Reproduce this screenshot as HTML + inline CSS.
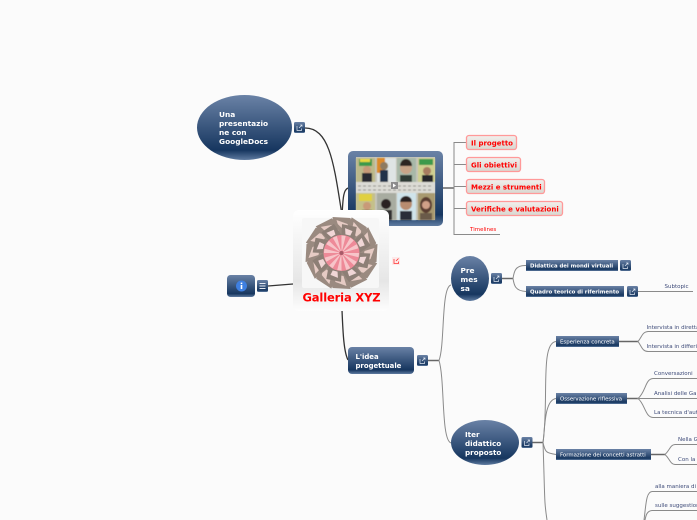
<!DOCTYPE html>
<html><head><meta charset="utf-8"><style>
html,body{margin:0;padding:0;background:#fbfbfb;width:697px;height:520px;overflow:hidden}
svg{display:block;filter:blur(.3px)}
text{font-family:"DejaVu Sans","Liberation Sans",sans-serif}
.w{fill:#fff;font-weight:bold;font-size:7.4px}
.s{fill:#fff;font-size:5.4px}
.sb{fill:#fff;font-size:5.38px;font-weight:bold}
.t{fill:#3d4a78;font-size:5.5px}
.r{fill:#f00;font-weight:bold;font-size:7px}
.c{fill:none;stroke:#8a8a8a;stroke-width:1}
.d{fill:none;stroke:#333;stroke-width:1.3}
.m{fill:none;stroke:#666;stroke-width:1.5}
</style></head><body>
<svg width="697" height="520" viewBox="0 0 697 520" xmlns="http://www.w3.org/2000/svg">
<defs>
<linearGradient id="b" x1="0" y1="0" x2="0" y2="1"><stop offset="0" stop-color="#6a82a6"/><stop offset=".85" stop-color="#16365f"/><stop offset="1" stop-color="#5f7ba0"/></linearGradient>
<linearGradient id="red" x1="0" y1="0" x2="0" y2="1"><stop offset="0" stop-color="#f1efec"/><stop offset="1" stop-color="#d9d6d0"/></linearGradient>
<linearGradient id="cn" x1="0" y1="0" x2="0" y2="1"><stop offset="0" stop-color="#fff"/><stop offset=".7" stop-color="#e6e6e6"/><stop offset="1" stop-color="#fdfdfd"/></linearGradient>
<filter id="bl" x="-5%" y="-5%" width="110%" height="110%"><feGaussianBlur stdDeviation=".6"/></filter>
<g id="btn"><rect width="11" height="11" rx="1.5" fill="url(#b)"/><path d="M3 4v4.500h4.500V6.500M5 6l3-3M6.200 3H8v1.800" fill="none" stroke="#dfe7f2" stroke-width=".7"/></g>
<g id="pet"><polygon points="-9,-36 9,-35 14,-17 -6,-16" fill="#9a8a80"/><polygon points="-5,-33 6,-29 9,-21 -2,-23" fill="#e6cbc4"/></g>
<g id="pet2"><polygon points="-7,-28 8,-29 9,-15 -4,-14" fill="#8d7f76"/><polygon points="-3,-25 5,-24 4,-19 -1,-19" fill="#f0d6d6"/></g>
</defs>

<!-- connectors -->
<path class="d" d="M305 128C330 128 334 165 342 215"/>
<path class="d" d="M348 188C343 190 343 200 342 215"/>
<path class="d" d="M268 286L293 284" stroke="#777"/>
<path class="d" d="M342 310C343 335 344 352 348 360"/>
<path class="m" d="M443 188H454"/>
<path class="c" d="M466 142.500H454V234.500H500M454 164.500H466M454 186.500H466M454 208.500H466" stroke-width="1.100"/>
<path class="m" d="M428 360.500H439"/>
<path class="c" d="M451 285C441 287 445 345 439 360.500C445 380 441 440 451 443"/>
<path class="m" d="M502 278.500H513"/>
<path class="c" d="M526 265.500C515 265 514 272 513 278.500C514 285 515 291 526 291.500"/>
<path class="c" d="M638 291.500H693"/>
<path class="m" d="M532 442.500H543"/>
<path class="c" d="M556 341.500C540 343 549 400 543 442.500C545 500 544 500 547 520"/>
<path class="c" d="M556 398.500C544 400 545 430 543 442.500C545 452 546 453 556 454.500"/>
<path class="m" d="M619 341.500H638"/>
<path class="c" d="M697 331.500H648C642 332 642 337 638 341.500C642 347 642 351 648 351.500H697"/>
<path class="m" d="M627 398.500H638"/>
<path class="c" d="M697 378.500H653C645 379 646 392 638 398.500C643 398.500 650 398.500 697 398.500M638 398.500C645 404 645 417 653 417.500H697"/>
<path class="m" d="M651 454.500H665"/>
<path class="c" d="M697 444.500H675C670 445 670 450 665 454.500C670 459 670 464 675 464.500H697"/>
<path class="c" d="M697 491.500H652C646 492 646 505 644 520M697 510.500H652C647 511 646 515 645 520"/>

<!-- Una -->
<ellipse cx="244.500" cy="127.500" rx="47.500" ry="32.500" fill="url(#b)"/>
<text class="w" x="219" y="117">Una</text><text class="w" x="219" y="126">presentazio</text><text class="w" x="219" y="135">ne con</text><text class="w" x="219" y="144">GoogleDocs</text>
<use href="#btn" x="294" y="122"/>

<!-- image node -->
<rect x="348" y="151" width="95" height="75" rx="5" fill="url(#b)"/>
<rect x="356" y="157" width="79" height="63" fill="#c6c5bb"/>
<g filter="url(#bl)">
<rect x="356" y="158" width="19" height="24" fill="#bdb98a"/><rect x="359" y="159" width="13" height="7" fill="#3e9a4c"/><rect x="360" y="159" width="10" height="3" fill="#e8d840"/><circle cx="367" cy="170" r="4" fill="#c89a78"/><rect x="362" y="173" width="10" height="9" fill="#2a2a30"/>
<rect x="377" y="158" width="19" height="24" fill="#dfe4e4"/><rect x="377" y="158" width="8" height="15" fill="#dc8a2c"/><circle cx="384" cy="166" r="4" fill="#8e7a60"/><rect x="380" y="170" width="8" height="12" fill="#24304a"/>
<rect x="397" y="158" width="19" height="24" fill="#a8b8a8"/><circle cx="406" cy="168" r="6" fill="#c8a488"/><path d="M400 166a6 7 0 0 1 12 0z" fill="#2e2824"/><rect x="400" y="175" width="12" height="7" fill="#2f3a34"/>
<rect x="418" y="158" width="17" height="24" fill="#cfcf90"/><rect x="419" y="159" width="14" height="6" fill="#3e9a4c"/><circle cx="427" cy="171" r="4" fill="#a87c60"/><rect x="422" y="175" width="11" height="7" fill="#26262a"/>
<rect x="356" y="182" width="79" height="11" fill="#dcdbd5"/>
<path d="M358 186h74M358 190h74" stroke="#8c8c86" stroke-width=".9" stroke-dasharray="3 2"/>
<rect x="356" y="193" width="19" height="27" fill="#c4c08a"/><rect x="359" y="194" width="13" height="7" fill="#e0d040"/><circle cx="367" cy="206" r="4" fill="#c89a78"/><rect x="362" y="210" width="10" height="10" fill="#2a2a30"/>
<rect x="377" y="193" width="19" height="27" fill="#a8aca0"/><circle cx="386" cy="204" r="5" fill="#2a2224"/><rect x="380" y="210" width="12" height="10" fill="#333"/>
<rect x="397" y="193" width="19" height="27" fill="#cfe3ea"/><circle cx="406" cy="204" r="6" fill="#b88c70"/><path d="M400 202a6 6 0 0 1 12 0z" fill="#2c2420"/><rect x="400" y="211" width="12" height="9" fill="#2b2d38"/>
<rect x="418" y="193" width="17" height="27" fill="#a89a70"/><ellipse cx="426" cy="205" rx="6" ry="8" fill="#5a3c30"/><circle cx="426" cy="205" r="4" fill="#d0a088"/><rect x="420" y="213" width="12" height="7" fill="#6a5a48"/>
</g>
<rect x="391" y="182" width="7" height="7" fill="#8c8c8c"/><path d="M393 183.500v4l3-2z" fill="#fff"/>

<!-- central -->
<rect x="293" y="210" width="96" height="101" rx="6" fill="url(#cn)"/>
<rect x="302" y="218" width="77" height="70" rx="2" fill="#f7f7f7"/>
<g transform="translate(341.500 253)">
<circle r="31" fill="#93857b"/>
<use href="#pet"/><use href="#pet" transform="rotate(30)"/><use href="#pet" transform="rotate(60)"/><use href="#pet" transform="rotate(90)"/><use href="#pet" transform="rotate(120)"/><use href="#pet" transform="rotate(150)"/><use href="#pet" transform="rotate(180)"/><use href="#pet" transform="rotate(210)"/><use href="#pet" transform="rotate(240)"/><use href="#pet" transform="rotate(270)"/><use href="#pet" transform="rotate(300)"/><use href="#pet" transform="rotate(330)"/>
<use href="#pet2" transform="rotate(15)"/><use href="#pet2" transform="rotate(60)"/><use href="#pet2" transform="rotate(105)"/><use href="#pet2" transform="rotate(150)"/><use href="#pet2" transform="rotate(195)"/><use href="#pet2" transform="rotate(240)"/><use href="#pet2" transform="rotate(285)"/><use href="#pet2" transform="rotate(330)"/>
<circle r="18" fill="#ee8a98"/>
<circle r="10" fill="none" stroke="#f9d3d6" stroke-width="15" stroke-dasharray="2.500 2.700" opacity=".8"/>
<circle r="2" fill="#a85a68"/>
</g>
<text x="341.500" y="301.500" text-anchor="middle" style="fill:#f00;font-weight:bold;font-size:11.500px;font-family:'DejaVu Sans',sans-serif;letter-spacing:-.15px">Galleria XYZ</text>
<rect x="392" y="257" width="8" height="8" fill="#fdeaea"/><path d="M394 259v4.500h4.500V261.500M396 261l2.500-2.500" fill="none" stroke="#f33" stroke-width=".8"/>

<!-- info -->
<rect x="227" y="275" width="28" height="22" rx="3.500" fill="url(#b)"/>
<circle cx="241.500" cy="286" r="5.500" fill="#3e7fe0"/><rect x="240.700" y="285" width="1.600" height="4" fill="#fff"/><rect x="240.700" y="282.600" width="1.600" height="1.500" fill="#fff"/>
<rect x="257" y="280" width="11" height="12" rx="1.500" fill="url(#b)"/><path d="M259.500 283.500h6M259.500 286h6M259.500 288.500h6" stroke="#e4e9f2" stroke-width=".9"/>

<!-- red nodes -->
<rect x="466.500" y="135.500" width="50" height="14" rx="2.500" fill="url(#red)" stroke="#f99" stroke-width="1.300"/>
<text class="r" x="471" y="145.500">Il progetto</text>
<rect x="466.500" y="157.500" width="54" height="14" rx="2.500" fill="url(#red)" stroke="#f99" stroke-width="1.300"/>
<text class="r" x="471" y="167.500">Gli obiettivi</text>
<rect x="466.500" y="179.500" width="78" height="14" rx="2.500" fill="url(#red)" stroke="#f99" stroke-width="1.300"/>
<text class="r" x="471" y="189.500">Mezzi e strumenti</text>
<rect x="466.500" y="201.500" width="96" height="14" rx="2.500" fill="url(#red)" stroke="#f99" stroke-width="1.300"/>
<text class="r" x="471" y="211.500">Verifiche e valutazioni</text>
<text x="470" y="231" style="fill:#f00;font-size:5.500px">Timelines</text>

<!-- L'idea -->
<rect x="348" y="347" width="66" height="27" rx="4" fill="url(#b)"/>
<text class="w" style="font-size:6.900px" x="355.500" y="359">L'idea</text><text class="w" style="font-size:6.900px" x="355.500" y="368">progettuale</text>
<use href="#btn" x="417" y="355"/>

<!-- Premessa -->
<ellipse cx="470" cy="278.500" rx="19" ry="22.500" fill="url(#b)"/>
<text class="w" x="460.500" y="273">Pre</text><text class="w" x="460.500" y="282">mes</text><text class="w" x="460.500" y="291">sa</text>
<use href="#btn" x="491" y="273"/>
<rect x="526" y="260" width="92" height="11" fill="url(#b)"/><text class="sb" x="530" y="267.500">Didattica dei mondi virtuali</text><use href="#btn" x="620" y="260"/>
<rect x="526" y="286" width="98" height="11" fill="url(#b)"/><text class="sb" x="530" y="293.500">Quadro teorico di riferimento</text><use href="#btn" x="627" y="286"/>
<text class="t" x="664.500" y="288">Subtopic</text>

<!-- Iter -->
<ellipse cx="485" cy="442.500" rx="34" ry="22.500" fill="url(#b)"/>
<text class="w" style="font-size:7.200px" x="465" y="437">Iter</text><text class="w" style="font-size:7.200px" x="465" y="446">didattico</text><text class="w" style="font-size:7.200px" x="465" y="455">proposto</text>
<use href="#btn" x="521.500" y="437"/>

<rect x="556" y="336" width="63" height="11" fill="url(#b)"/><text class="s" x="560" y="343.500">Esperienza concreta</text>
<rect x="556" y="393" width="71" height="11" fill="url(#b)"/><text class="s" x="560" y="400.500">Osservazione riflessiva</text>
<rect x="556" y="449" width="95" height="11" fill="url(#b)"/><text class="s" x="560" y="456.500">Formazione dei concetti astratti</text>

<text class="t" x="646.500" y="329">Intervista in diretta</text>
<text class="t" x="646.500" y="348">Intervista in differita</text>
<text class="t" x="654" y="375">Conversazioni</text>
<text class="t" x="654" y="395">Analisi delle Gallerie</text>
<text class="t" x="654" y="414">La tecnica d'autore</text>
<text class="t" x="678" y="441">Nella Galleria</text>
<text class="t" x="678" y="461">Con la classe</text>
<text class="t" x="655" y="488">alla maniera di</text>
<text class="t" x="655" y="507">sulle suggestioni</text>
</svg>
</body></html>
